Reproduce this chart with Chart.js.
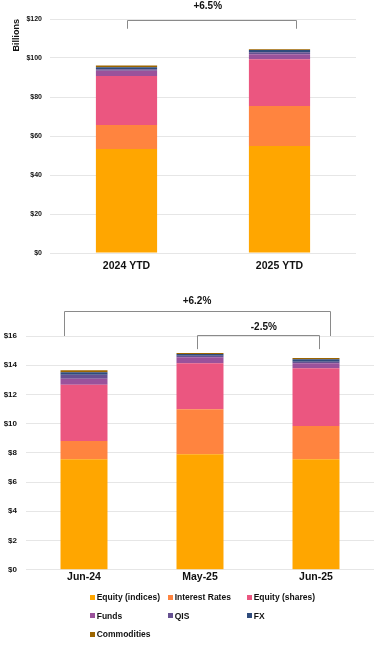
<!DOCTYPE html>
<html>
<head>
<meta charset="utf-8">
<script src="https://cdn.jsdelivr.net/npm/chart.js@4"></script>
<style>
  html, body { margin: 0; padding: 0; background: #fff; }
  body { width: 388px; height: 648px; position: relative; overflow: hidden; font-family: "Liberation Sans", Arial, sans-serif; }
  #topWrap { position: absolute; left: 0; top: 0; width: 388px; height: 280px; }
  #botWrap { position: absolute; left: 0; top: 280px; width: 388px; height: 310px; }
  #legend { position: absolute; left: 90px; top: 588px; display: grid; grid-template-columns: 78px 79px auto; grid-auto-rows: 18.5px; }
  .item { display: flex; align-items: center; font-size: 8.5px; font-weight: bold; color: #111; white-space: nowrap; }
  .sw { width: 5px; height: 5px; margin-right: 1.7px; flex: none; }
</style>
</head>
<body>
<div id="topWrap"><canvas id="topChart" width="388" height="280"></canvas></div>
<div id="botWrap"><canvas id="botChart" width="388" height="310"></canvas></div>
<div id="legend"></div>
<script>
// ---- Data ----
const seriesNames = ["Equity (indices)", "Interest Rates", "Equity (shares)", "Funds", "QIS", "FX", "Commodities"];
const seriesColors = ["#FFA600", "#FF843F", "#EB5680", "#9A529B", "#665191", "#2F4B7C", "#9C6500"];

// Top chart: YTD revenues (billions)
const ytdCategories = ["2024 YTD", "2025 YTD"];
const ytdEquityIndices = [53.3, 54.9];
const ytdInterestRates = [12.3, 20.5];
const ytdEquityShares = [25.2, 23.9];
const ytdFunds = [2.6, 2.6];
const ytdQIS = [0.85, 1.0];
const ytdFX = [1.0, 1.2];
const ytdCommodities = [0.85, 0.4];
const ytdTicks = [0, 20, 40, 60, 80, 100, 120];

// Bottom chart: monthly (billions)
const monCategories = ["Jun-24", "May-25", "Jun-25"];
const monEquityIndices = [7.56, 7.90, 7.56];
const monInterestRates = [1.25, 3.09, 2.28];
const monEquityShares = [3.86, 3.15, 3.95];
const monFunds = [0.41, 0.41, 0.34];
const monQIS = [0.27, 0.09, 0.11];
const monFX = [0.16, 0.13, 0.16];
const monCommodities = [0.14, 0.07, 0.09];
const monTicks = [0, 2, 4, 6, 8, 10, 12, 14, 16];

const ytdSeries = [ytdEquityIndices, ytdInterestRates, ytdEquityShares, ytdFunds, ytdQIS, ytdFX, ytdCommodities];
const monSeries = [monEquityIndices, monInterestRates, monEquityShares, monFunds, monQIS, monFX, monCommodities];

Chart.defaults.font.family = '"Liberation Sans", Arial, sans-serif';
Chart.defaults.color = '#111';

const bracketPlugin = {
  id: 'brackets',
  afterDraw(chart, args, opts) {
    const ctx = chart.ctx;
    const xs = chart.scales.x, ys = chart.scales.y;
    ctx.save();
    ctx.lineWidth = 1;
    ctx.strokeStyle = opts.color || '#888';
    ctx.fillStyle = '#111';
    ctx.font = 'bold 10px "Liberation Sans", Arial, sans-serif';
    ctx.textAlign = 'center';
    ctx.textBaseline = 'middle';
    (opts.items || []).forEach(b => {
      const x1 = Math.round(xs.getPixelForValue(b.from)) + 0.5;
      const x2 = Math.round(xs.getPixelForValue(b.to)) + 0.5;
      const yl = Math.round(ys.getPixelForValue(b.level)) + 0.5;
      const yf = ys.getPixelForValue(b.foot);
      ctx.beginPath();
      ctx.moveTo(x1, yf); ctx.lineTo(x1, yl); ctx.lineTo(x2, yl); ctx.lineTo(x2, yf);
      ctx.stroke();
      ctx.fillText(b.label, xs.getPixelForValue(b.textX), ys.getPixelForValue(b.textY));
    });
    ctx.restore();
  }
};

function makeDatasets(series, barPct) {
  return series.map((vals, i) => ({
    label: seriesNames[i],
    data: vals,
    backgroundColor: seriesColors[i],
    borderWidth: 0,
    barPercentage: barPct,
    categoryPercentage: 1.0,
    stack: 's'
  }));
}

function tickCb(ticks) {
  return function (v) { return ticks.includes(v) ? '$' + v : ''; };
}

// Top chart
new Chart(document.getElementById('topChart'), {
  type: 'bar',
  data: { labels: ytdCategories, datasets: makeDatasets(ytdSeries, 0.4) },
  options: {
    responsive: false, animation: false, devicePixelRatio: 1,
    layout: { padding: { top: 19, right: 32, left: 0, bottom: 0 } },
    plugins: {
      legend: { display: false }, tooltip: { enabled: false },
      brackets: { color: '#8a8a8a', items: [
        { from: 0.005, to: 1.11, level: 119.7, foot: 115.0, label: '+6.5%', textX: 0.531, textY: 126.5 }
      ] }
    },
    scales: {
      x: {
        stacked: true,
        grid: { display: false, drawTicks: false },
        border: { display: false },
        ticks: { padding: 7, font: { size: 10.5, weight: 'bold' }, color: '#111' },
        afterFit(s) { s.height = 27; }
      },
      y: {
        stacked: true, min: ytdTicks[0], max: ytdTicks[ytdTicks.length - 1],
        grid: { color: '#e6e6e6', drawTicks: false, lineWidth: 1 },
        border: { display: false },
        ticks: { stepSize: 20, padding: 8, font: { size: 7, weight: 'bold' }, color: '#111', callback: tickCb(ytdTicks) },
        title: { display: true, text: 'Billions', align: 'end', font: { size: 9, weight: 'bold' }, color: '#111', padding: { top: 11, bottom: 0 } },
        afterFit(s) { s.width = 50; }
      }
    }
  },
  plugins: [bracketPlugin]
});

// Bottom chart
const botChart = new Chart(document.getElementById('botChart'), {
  type: 'bar',
  data: { labels: monCategories, datasets: makeDatasets(monSeries, 0.405) },
  options: {
    responsive: false, animation: false, devicePixelRatio: 1,
    layout: { padding: { top: 56, right: 14, left: 0, bottom: 0 } },
    plugins: {
      legend: { display: false }, tooltip: { enabled: false },
      brackets: { color: '#8a8a8a', items: [
        { from: -0.17, to: 2.118, level: 17.7, foot: 16.0, label: '+6.2%', textX: 0.974, textY: 18.4 },
        { from: 0.97, to: 2.03, level: 16.05, foot: 15.1, label: '-2.5%', textX: 1.55, textY: 16.6 }
      ] }
    },
    scales: {
      x: {
        stacked: true,
        grid: { display: false, drawTicks: false },
        border: { display: false },
        ticks: { padding: 1, font: { size: 10.5, weight: 'bold' }, color: '#111' },
        afterFit(s) { s.height = 20.3; }
      },
      y: {
        stacked: true, min: monTicks[0], max: monTicks[monTicks.length - 1],
        grid: { color: '#e6e6e6', drawTicks: false, lineWidth: 1 },
        border: { display: false },
        ticks: { stepSize: 2, padding: 9, font: { size: 8, weight: 'bold' }, color: '#111', callback: tickCb(monTicks) },
        afterFit(s) { s.width = 26; }
      }
    }
  },
  plugins: [bracketPlugin]
});

// HTML legend built from the bottom chart's datasets
const legendEl = document.getElementById('legend');
botChart.data.datasets.forEach(ds => {
  const it = document.createElement('div');
  it.className = 'item';
  const sw = document.createElement('span');
  sw.className = 'sw';
  sw.style.background = ds.backgroundColor;
  const tx = document.createElement('span');
  tx.textContent = ds.label;
  it.appendChild(sw); it.appendChild(tx);
  legendEl.appendChild(it);
});
</script>
</body>
</html>
